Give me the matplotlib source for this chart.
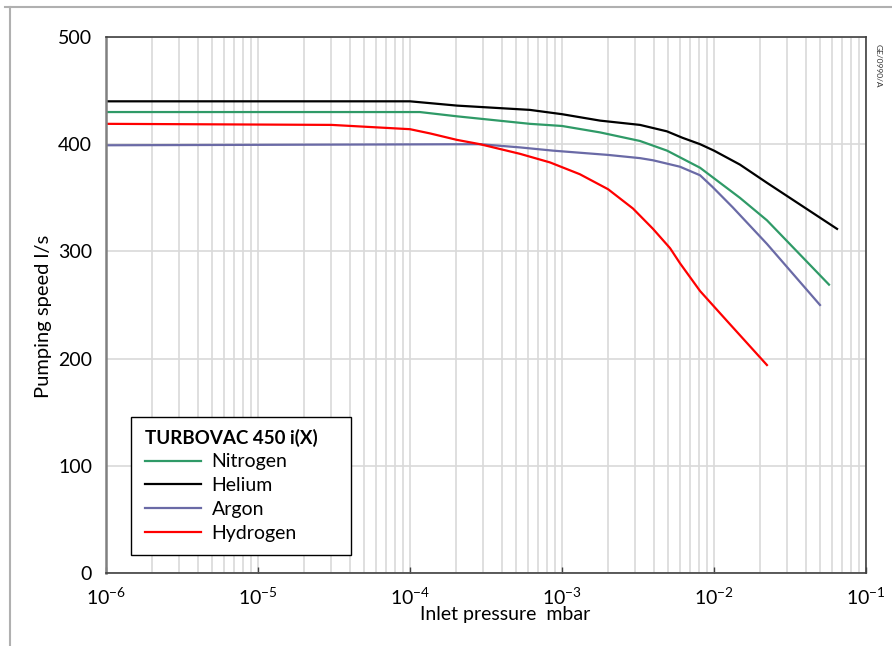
import numpy as np
import matplotlib.pyplot as plt
from matplotlib.lines import Line2D
from matplotlib.patches import Rectangle
from matplotlib.ticker import LogLocator, FixedLocator, NullFormatter

plt.rcParams['font.family'] = ['Lato', 'DejaVu Sans']
plt.rcParams['mathtext.fontset'] = 'custom'
plt.rcParams['mathtext.rm'] = 'Lato'

# pumping speed curves (pressure in mbar, speed in l/s)
nitrogen_p = [1e-6, 1e-4, 1.16e-4, 2.04e-4, 6.15e-4, 1e-3, 1.78e-3, 3.26e-3, 4.91e-3, 8.1e-3, 1.48e-2, 2.23e-2, 5.71e-2]
nitrogen_s = [430, 430, 430, 426, 419, 417, 411, 403, 394, 378, 350, 329, 269]

helium_p = [1e-6, 1e-4, 2.04e-4, 6.15e-4, 1e-3, 1.78e-3, 3.26e-3, 4.9e-3, 6.2e-3, 8.1e-3, 1e-2, 1.48e-2, 2.23e-2, 6.45e-2]
helium_s = [440, 440, 436, 432, 428, 422, 418, 412, 406, 400, 394, 381, 364, 321]

argon_p = [1e-6, 2.9e-4, 5.3e-4, 8.7e-4, 2.01e-3, 3.26e-3, 3.97e-3, 5.97e-3, 8.1e-3, 9.8e-3, 1.33e-2, 2.23e-2, 4.98e-2]
argon_s = [399, 400, 397, 394, 390, 387, 385, 379, 371, 360, 341, 307, 250]

hydrogen_p = [1e-6, 3.05e-5, 1e-4, 1.36e-4, 2.04e-4, 2.89e-4, 5.3e-4, 8.34e-4, 1.31e-3, 2.01e-3, 2.93e-3,
              3.97e-3, 5.14e-3, 5.97e-3, 8.1e-3, 1.22e-2, 2.23e-2]
hydrogen_s = [419, 418, 414, 410, 404, 400, 391, 383, 372, 358, 340, 321, 303, 289, 263, 235, 194]

x_ticks = [1e-6, 1e-5, 1e-4, 1e-3, 1e-2, 1e-1]
x_tick_labels = ['10$^{-6}$', '10$^{-5}$', '10$^{-4}$', '10$^{-3}$', '10$^{-2}$', '10$^{-1}$']
y_ticks = [0, 100, 200, 300, 400, 500]

fig = plt.figure(figsize=(8.92, 6.46), dpi=100)
ax = fig.add_axes([106 / 892, 1 - 573 / 646, 760 / 892, 536 / 646])

ax.plot(nitrogen_p, nitrogen_s, color='#2f9a67', lw=1.6, label='Nitrogen')
ax.plot(helium_p, helium_s, color='black', lw=1.6, label='Helium')
ax.plot(argon_p, argon_s, color='#6a6aa6', lw=1.6, label='Argon')
ax.plot(hydrogen_p, hydrogen_s, color='#ff0000', lw=1.6, label='Hydrogen')

ax.set_xscale('log')
ax.set_xlim(1e-6, 1e-1)
ax.set_ylim(0, 500)

# grid: every minor decade line plus horizontal lines every 100
ax.xaxis.set_minor_locator(LogLocator(base=10, subs=np.arange(2, 10), numticks=20))
ax.xaxis.set_minor_formatter(NullFormatter())
ax.grid(True, which='both', axis='x', color='#d9d9d9', lw=1.2)
ax.grid(True, which='major', axis='y', color='#d9d9d9', lw=1.2)
ax.set_axisbelow(True)

ax.xaxis.set_major_locator(FixedLocator(x_ticks))
ax.set_xticklabels(x_tick_labels)
ax.set_yticks(y_ticks)
ax.tick_params(axis='x', which='major', direction='in', length=4, width=1, color='#404040',
               labelsize=14, pad=9)
ax.tick_params(axis='x', which='minor', length=0)
ax.tick_params(axis='y', length=0, labelsize=14, pad=10)

for side in ['top', 'right', 'bottom']:
    ax.spines[side].set_color('#404040')
    ax.spines[side].set_linewidth(1.2)
ax.spines['left'].set_color('#808080')
ax.spines['left'].set_linewidth(1.8)

# x title sits a bit right of centre, under the tick labels
ax.text(0.525, -0.0877, 'Inlet pressure  mbar', transform=ax.transAxes, fontsize=14,
        ha='center', va='baseline')
ax.set_ylabel('Pumping speed l/s', fontsize=14.5)
ax.yaxis.set_label_coords(-0.071, 0.479)

# legend box is wider than its text, so the frame is drawn separately
ax.add_patch(Rectangle((0.0329, 0.0336), 0.2895, 0.2575, transform=ax.transAxes,
                       facecolor='white', edgecolor='black', lw=1.0, zorder=4))
leg = ax.legend(loc='upper left', bbox_to_anchor=(0.0329, 0.2948), borderaxespad=0,
                title='TURBOVAC 450 i(X)', title_fontproperties={'weight': 'bold', 'size': 13.5},
                alignment='left', fontsize=14, frameon=False,
                handlelength=2.9, handletextpad=0.55, labelspacing=0.345,
                borderpad=0.7)
leg.set_zorder(5)

fig.text(878 / 892, 1 - 66 / 646, 'GE/0990/A', rotation=270, fontsize=6,
         ha='center', va='center', color='#333333')

# page frame lines from the original scan
fig.add_artist(Line2D([10 / 892, 10 / 892], [0, 1 - 7 / 646], color='#b0b0b0', lw=1.5))
fig.add_artist(Line2D([5 / 892, 1], [1 - 7 / 646, 1 - 7 / 646], color='#b0b0b0', lw=1.5))

fig.savefig('out.png', dpi=100)
